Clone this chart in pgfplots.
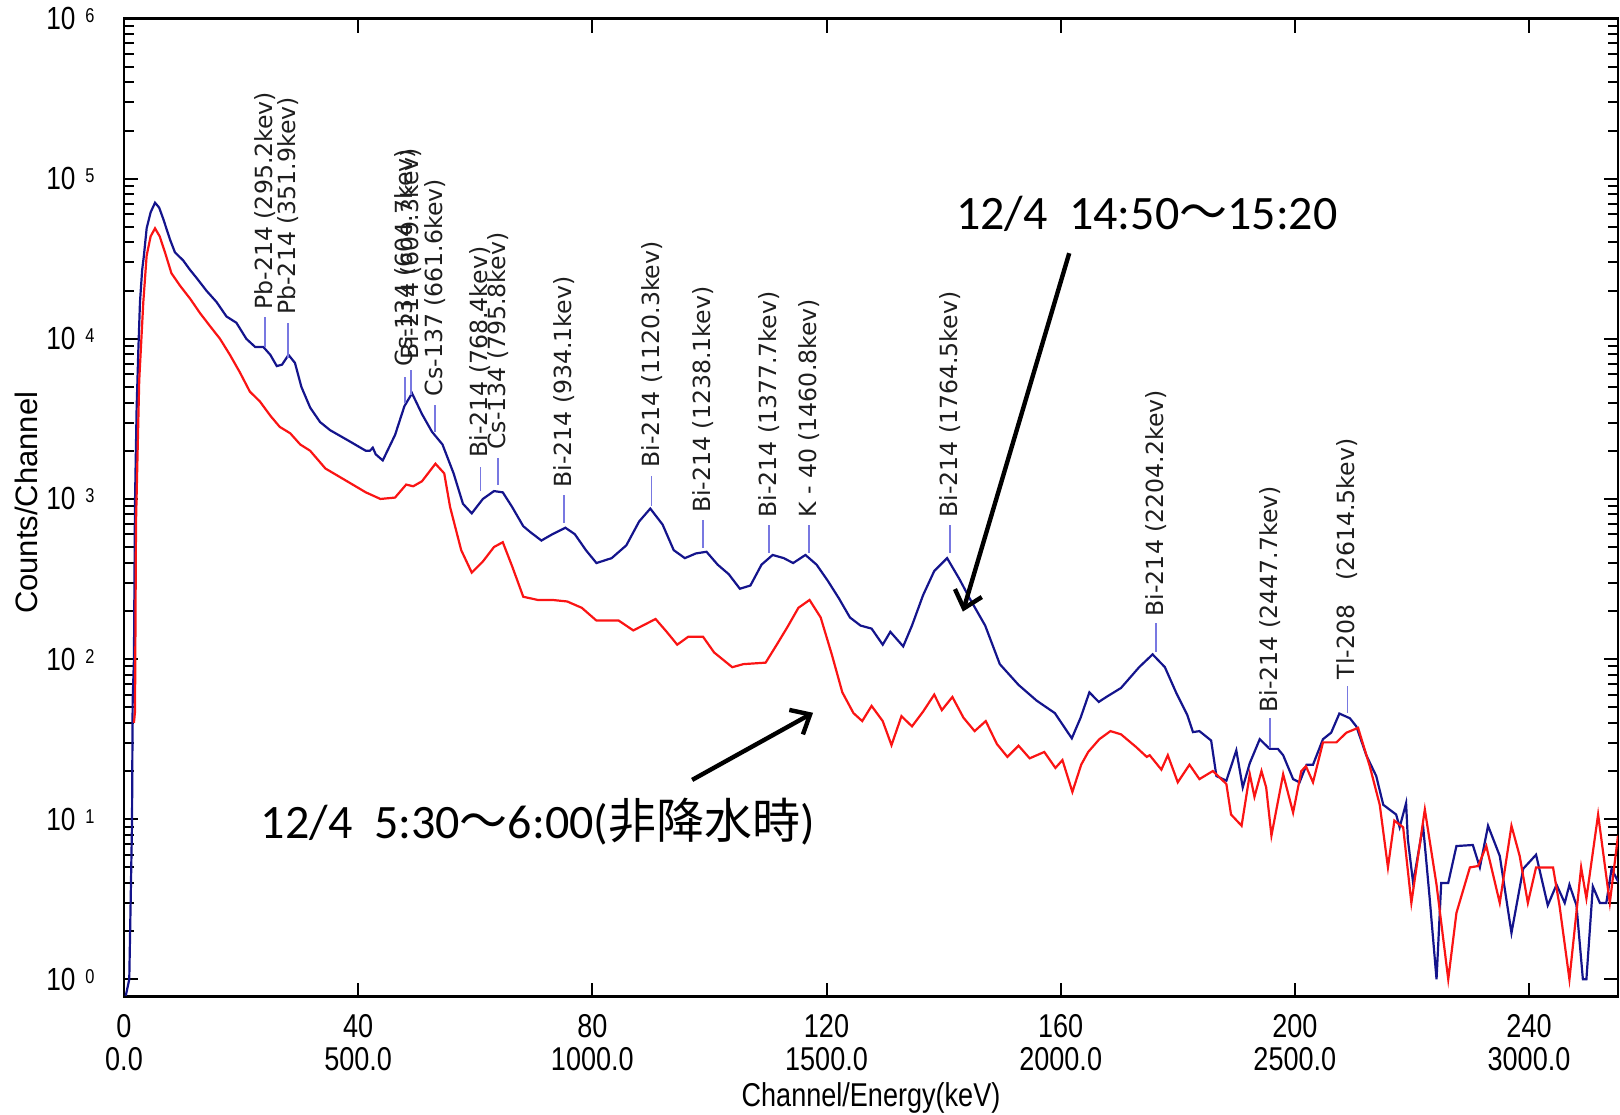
\documentclass[border=0pt]{standalone}
\usepackage{fontspec}
\usepackage{pgfplots}
\pgfplotsset{compat=1.18}
\usetikzlibrary{arrows.meta}
\setmainfont{Liberation Sans}
\newfontfamily\condfont[FakeStretch=0.82]{Liberation Sans}
\newfontfamily\peakfont{DejaVu Sans}
\newfontfamily\annfont{Carlito}
\newfontfamily\cjk{Noto Sans CJK JP}
\definecolor{sblue}{RGB}{20,20,140}
\definecolor{sred}{RGB}{250,20,20}
\definecolor{pline}{RGB}{120,120,225}
\definecolor{ptext}{RGB}{30,30,30}
\newcommand{\ylab}[1]{10\hspace{5pt}\raisebox{3.5pt}{\fontsize{10}{10}\selectfont #1}}
\newcommand{\peak}[5]{%
  \draw[pline, line width=0.9pt] (axis cs:#1,#2) -- (axis cs:#1,#3);
  \node[ptext, rotate=90, anchor=west, inner sep=0pt, font=\peakfont\fontsize{11.8}{11.8}\selectfont] at (axis cs:#1,#4) {#5};}
\begin{document}
\begin{tikzpicture}
\begin{axis}[
  scale only axis, width=747pt, height=489pt,
  xmin=0, xmax=255.2, ymode=log, ymin=0.78, ymax=1e6,
  axis line style={line width=1.2pt},
  tick style={black, line width=1pt},
  major tick length=7pt, minor tick length=5pt,
  xtick={0,40,80,120,160,200,240},
  xticklabels={{0\\0.0},{40\\500.0},{80\\1000.0},{120\\1500.0},{160\\2000.0},{200\\2500.0},{240\\3000.0}},
  xticklabel style={align=center, inner sep=0pt, yshift=-8.8pt, font=\condfont\fontsize{16.5}{16.5}\selectfont},
  ytick={1,10,100,1000,10000,100000,1000000},
  yticklabels={\ylab{0},\ylab{1},\ylab{2},\ylab{3},\ylab{4},\ylab{5},\ylab{6}},
  yticklabel style={anchor=east, inner sep=0pt, xshift=-14.5pt, font=\condfont\fontsize{16}{16}\selectfont},
  xlabel={Channel/Energy(keV)},
  xlabel style={at={([yshift=-50.5pt]axis description cs:0.5,0)}, anchor=center, font=\condfont\fontsize{16.5}{16.5}\selectfont},
  ylabel={Counts/Channel},
  ylabel style={at={([xshift=-49pt,yshift=2.4pt]axis description cs:0,0.5)}, anchor=center, rotate=0, font=\fontsize{15.5}{15.5}\selectfont},
  clip mode=individual,
]
% blue: 12/4 14:50-15:20
\addplot[sblue, line width=1.1pt] coordinates {
(0.3,0.79) (0.9,1.0) (1.14,3.1) (1.37,9.5) (1.48,55) (1.7,100) (1.88,955) (2.16,3715) (2.45,8510) (2.73,16980)
(3.1,26900) (3.4,33100) (3.87,49000) (4.55,61700) (5.3,70800) (6.0,66100) (6.7,56200) (7.86,41700) (8.7,34700)
(10.1,30900) (11.3,26900) (12.4,24000) (14.1,19950) (15.8,17000) (17.5,13800) (19.2,12600) (20.9,10000)
(22.4,8900) (23.8,8900) (25.0,7940) (26.1,6760) (27.0,6900) (28.1,7940) (29.2,7080) (30.3,5010) (31.8,3720)
(33.5,3020) (35.2,2690) (38.1,2340) (41.3,2000) (42.0,2000) (42.5,2090) (43.0,1900) (44.2,1740) (46.3,2510)
(47.9,3800) (49.2,4570) (50.9,3390) (52.6,2630) (54.4,2190) (56.3,1445) (57.9,933) (59.4,813) (61.3,1000)
(63.2,1120) (64.7,1100) (66.3,891) (68.2,676) (69.5,617) (71.3,550) (73.2,603) (75.4,661) (77.0,603) (78.9,479)
(80.7,398) (83.3,427) (85.8,513) (88.0,724) (89.9,871) (92.0,692) (93.9,479) (95.8,427) (97.7,457) (99.5,468)
(101.4,389) (103.3,339) (105.2,275) (107.0,288) (108.9,389) (110.8,447) (112.7,427) (114.3,398) (116.4,447)
(118.3,389) (120.2,309) (122.1,240) (124.0,182) (125.8,162) (127.7,155) (129.6,123) (130.9,148) (133.1,120)
(134.6,162) (136.5,251) (138.4,355) (140.6,427) (142.7,316) (144.6,234) (147.1,162) (149.6,93) (152.8,69)
(155.9,55) (159.0,46) (161.9,32) (163.4,43) (164.9,62) (166.5,54) (167.8,58) (170.3,66) (173.4,89) (175.7,107)
(177.8,89) (179.7,62) (181.6,45) (182.6,35) (183.7,35.5) (185.7,31) (186.6,18.6) (188.3,17.4) (190.0,26.9)
(191.1,15.8) (192.3,22.4) (194.0,31.6) (195.7,27.5) (197.1,27.5) (198.0,25.1) (199.7,17.8) (200.8,17.0)
(202.0,21.9) (203.1,21.9) (204.8,31.6) (206.2,34.7) (207.6,45.7) (209.4,42.7) (210.5,38.0) (212.2,25.1)
(213.9,18.6) (215.1,12.3) (217.3,10.7) (217.9,8.9) (219.0,12.6) (219.3,7.5) (220.2,4.0) (221.9,9.1) (223.0,3.3)
(224.2,1.0) (225.0,4.0) (226.2,4.0) (227.6,6.8) (230.4,6.9) (231.6,5.0) (233.0,9.1) (235.0,5.9) (237.0,1.95)
(239.0,4.9) (241.2,6.0) (243.2,2.9) (244.7,3.9) (246.1,3.0) (246.9,3.9) (248.1,2.9) (249.2,1.0) (249.8,1.0)
(250.9,3.8) (252.1,3.0) (253.2,3.0) (254.1,4.9) (255.5,3.9)
};
% red: 12/4 5:30-6:00
\addplot[sred, line width=1.1pt] coordinates {
(1.7,40) (1.88,47) (2.05,708) (2.6,5500) (3.3,17000) (3.87,33100) (4.55,43650) (5.3,49000) (6.1,43650)
(7.0,34700) (8.1,25700) (9.6,21400) (11.3,17800) (13.0,14450) (14.7,12000) (16.4,10000) (18.1,7940) (19.8,6170)
(21.5,4680) (23.2,4070) (25.0,3310) (26.6,2820) (28.4,2570) (30.1,2190) (31.8,2000) (34.4,1550) (38.1,1290)
(41.3,1100) (43.8,1000) (46.3,1020) (48.2,1230) (49.4,1200) (50.9,1290) (53.2,1660) (54.7,1445) (55.7,891)
(57.6,479) (59.4,347) (61.3,407) (63.2,501) (64.7,537) (66.3,380) (68.2,245) (70.7,234) (73.2,234) (75.7,229)
(78.2,209) (80.7,174) (84.5,174) (87.0,151) (90.8,178) (92.7,148) (94.5,123) (96.4,138) (98.9,138) (100.8,110)
(103.9,89) (105.8,93) (109.6,95) (111.5,123) (113.3,158) (115.2,209) (117.1,234) (119.0,182) (120.9,107)
(122.7,62) (124.6,46) (126.1,41) (127.7,51) (129.6,41) (131.1,29) (132.8,44) (134.6,38) (136.5,47) (138.4,60)
(139.7,48) (141.5,58) (143.4,43) (145.3,35.5) (147.2,41) (149.1,29.5) (150.9,24.5) (152.8,28.8) (154.7,24)
(157.2,26.3) (159.1,20.9) (160.3,23.4) (162.0,14.8) (163.5,21.9) (164.7,26.3) (166.6,31.6) (168.5,35.5)
(170.3,33.9) (172.9,28.2) (174.7,24.5) (175.2,25.1) (177.2,20.4) (178.3,25.1) (180.0,17.0) (182.0,21.9)
(183.7,17.8) (186.0,20.0) (188.3,16.6) (189.1,10.7) (190.9,9.1) (192.3,19.1) (193.1,13.8) (194.3,20.0)
(195.1,15.8) (196.0,7.9) (198.0,19.1) (199.7,11.0) (201.1,20.0) (201.9,21.4) (203.1,17.0) (204.8,30.2)
(207.1,30.2) (208.8,34.7) (210.8,37.2) (212.8,21.4) (214.5,12.3) (215.9,5.0) (217.0,9.8) (218.5,8.9)
(219.9,3.0) (222.2,11.5) (224.2,3.9) (226.2,1.0) (227.6,2.6) (229.9,5.0) (231.3,5.1) (232.7,6.8) (235.0,3.0)
(237.0,9.1) (238.4,5.9) (239.8,3.0) (241.2,5.0) (244.1,5.0) (245.2,2.9) (246.9,1.0) (248.9,5.0) (249.8,3.2)
(251.8,10.7) (253.8,3.0) (255.2,7.9)
};
% peak labels
\peak{24.09}{8954}{13772}{15171}{Pb-214 (295.2kev)}
\peak{27.95}{7603}{12560}{14060}{Pb-214 (351.9kev)}
\peak{48.0}{3981}{5768}{6699}{Cs-134 (604.7kev)}
\peak{48.97}{4487}{6397}{7430}{Bi-214 (609.3kev)}
\peak{53.11}{2624}{3864}{4355}{Cs-137 (661.6kev)}
\peak{60.91}{1127}{1592}{1799}{Bi-214 (768.4kev)}
\peak{63.93}{1225}{1799}{2023}{Cs-134 (795.8kev)}
\peak{75.17}{711}{1062}{1169}{Bi-214 (934.1kev)}
\peak{90.12}{902}{1387}{1563}{Bi-214 (1120.3kev)}
\peak{98.94}{494}{743}{815}{Bi-214 (1238.1kev)}
\peak{110.22}{462}{690}{759}{Bi-214 (1377.7kev)}
\peak{117.05}{462}{690}{759}{K - 40 (1460.8kev)}
\peak{141.08}{462}{690}{759}{Bi-214 (1764.5kev)}
\peak{176.27}{111}{168}{184}{Bi-214 (2204.2kev)}
\peak{195.73}{27.9}{42.9}{46.2}{Bi-214 (2447.7kev)}
\peak{209.0}{46.2}{67.9}{74.3}{Tl-208\hspace{12pt}(2614.5kev)}
% annotations
\node[anchor=west, inner sep=0pt, font=\annfont\fontsize{24}{24}\selectfont] at (axis cs:142.05,60256) {12/4\ \ 14:50{\cjk 〜}15:20};
\node[anchor=west, inner sep=0pt, font=\annfont\fontsize{24}{24}\selectfont] at (axis cs:23.3,9.70) {12/4\ \ 5:30{\cjk 〜}6:00({\cjk 非降水時})};
\draw[line width=2.2pt, -{Straight Barb[length=8pt,width=14pt]}] (axis cs:161.46,34277) -- (axis cs:143.29,198);
\draw[line width=2.2pt, -{Straight Barb[length=8pt,width=14pt]}] (axis cs:97.05,17.6) -- (axis cs:117.7,46.2);
\end{axis}
\pgfresetboundingbox
\path[use as bounding box] (-62pt,-59pt) rectangle (748pt,498.3pt);
\end{tikzpicture}
\end{document}
